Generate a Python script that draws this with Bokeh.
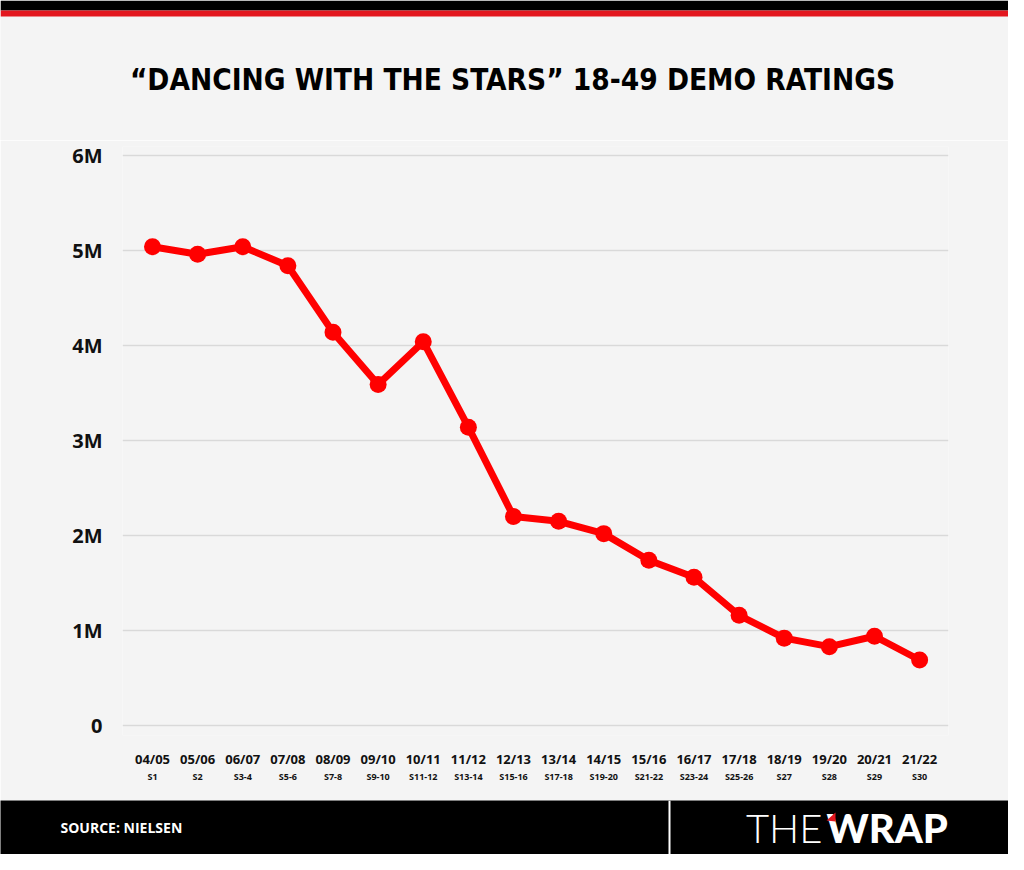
from bokeh.plotting import figure
from bokeh.models import FixedTicker, LinearAxis, Range1d, BoxAnnotation, Label, PolyAnnotation
from bokeh.layouts import column
from bokeh.embed import file_html
from bokeh.resources import INLINE

# ---------------- data ----------------
seasons_year = ["04/05", "05/06", "06/07", "07/08", "08/09", "09/10", "10/11", "11/12",
                "12/13", "13/14", "14/15", "15/16", "16/17", "17/18", "18/19", "19/20",
                "20/21", "21/22"]
seasons_num = ["S1", "S2", "S3-4", "S5-6", "S7-8", "S9-10", "S11-12", "S13-14",
               "S15-16", "S17-18", "S19-20", "S21-22", "S23-24", "S25-26", "S27",
               "S28", "S29", "S30"]
viewers_m = [5.04, 4.96, 5.04, 4.84, 4.14, 3.59, 4.04, 3.14, 2.20, 2.15, 2.02, 1.74,
             1.56, 1.16, 0.92, 0.83, 0.94, 0.69]
y_ticks = [0, 1, 2, 3, 4, 5, 6]
y_tick_labels = ["0", "1M", "2M", "3M", "4M", "5M", "6M"]
title_text = "\u201cDANCING WITH THE STARS\u201d 18-49 DEMO RATINGS"
source_text = "SOURCE: NIELSEN"

xs = list(range(len(seasons_year)))

W = 1008
BG = "#f4f4f4"
H_HEAD, H_MAIN, H_FOOT = 140, 660, 54
FOOT_TOP = H_HEAD + H_MAIN


def deco_fig(h, y0, bg):
    f = figure(width=W, height=h, output_backend="svg", toolbar_location=None,
               x_range=Range1d(0, W), y_range=Range1d(y0 + h, y0),
               min_border=0, x_axis_location=None, y_axis_location=None,
               frame_align=False)
    f.outline_line_color = None
    f.grid.visible = False
    f.background_fill_color = bg
    f.border_fill_color = bg
    return f


# ---------------- header ----------------
head = deco_fig(H_HEAD, 0, BG)
head.add_layout(BoxAnnotation(left=0, right=W, top=0, bottom=10, fill_color="#000000",
                              fill_alpha=1, line_color=None))
head.add_layout(BoxAnnotation(left=0, right=W, top=10, bottom=16, fill_color="#e3161e",
                              fill_alpha=1, line_color=None))
head.add_layout(Label(x=512, y=79, text=title_text, text_align="center",
                      text_baseline="middle", text_font="DejaVu Sans Condensed",
                      text_font_style="bold", text_font_size="29.5px", text_color="#000000"))

# ---------------- main chart ----------------
p = figure(width=W, height=H_MAIN, output_backend="svg", toolbar_location=None,
           x_range=Range1d(-0.665, 17.64), y_range=Range1d(-0.105, 6.095),
           min_border_left=122, min_border_right=60, min_border_top=6,
           min_border_bottom=H_MAIN - 6 - 589, x_axis_location=None, y_axis_location=None,
           frame_align=False)
p.outline_line_color = None
p.background_fill_color = BG
p.border_fill_color = BG

p.xgrid.grid_line_color = None
p.ygrid.ticker = FixedTicker(ticks=y_ticks)
p.ygrid.grid_line_color = "#d9d9d9"
p.ygrid.grid_line_width = 1.6

ya = LinearAxis(ticker=FixedTicker(ticks=y_ticks),
                major_label_overrides={t: l for t, l in zip(y_ticks, y_tick_labels)})
ya.axis_line_color = None
ya.major_tick_line_color = None
ya.minor_tick_line_color = None
ya.major_label_standoff = 14
ya.major_label_text_font = "Open Sans"
ya.major_label_text_font_style = "bold"
ya.major_label_text_font_size = "20px"
ya.major_label_text_color = "#111111"
p.add_layout(ya, "left")

xa1 = LinearAxis(ticker=FixedTicker(ticks=xs),
                 major_label_overrides={i: s for i, s in zip(xs, seasons_year)})
xa2 = LinearAxis(ticker=FixedTicker(ticks=xs),
                 major_label_overrides={i: s for i, s in zip(xs, seasons_num)})
for ax, size, stand in ((xa1, "13px", 8), (xa2, "9px", -7)):
    ax.axis_line_color = None
    ax.major_tick_line_color = None
    ax.minor_tick_line_color = None
    ax.major_label_standoff = stand
    ax.major_label_text_font = "Open Sans"
    ax.major_label_text_font_style = "bold"
    ax.major_label_text_font_size = size
    ax.major_label_text_color = "#111111"
p.add_layout(xa1, "below")
p.add_layout(xa2, "below")

p.line(xs, viewers_m, line_color="#ff0000", line_width=7, line_join="round")
p.scatter(xs, viewers_m, size=17, fill_color="#ff0000", line_color=None)

# ---------------- footer ----------------
fy = FOOT_TOP + H_FOOT / 2
foot = deco_fig(H_FOOT, FOOT_TOP, "#000000")
foot.add_layout(BoxAnnotation(left=668, right=670, top=FOOT_TOP, bottom=FOOT_TOP + H_FOOT,
                              fill_color="#ffffff", fill_alpha=1, line_color=None))
foot.add_layout(Label(x=60, y=fy, text=source_text, text_align="left",
                      text_baseline="middle", text_font="Open Sans",
                      text_font_style="bold", text_font_size="14px", text_color="#ffffff"))
foot.add_layout(Label(x=822, y=fy, text="THE", text_align="right",
                      text_baseline="middle", text_font="Lato Light",
                      text_font_size="40px", text_color="#ffffff"))
foot.add_layout(Label(x=826, y=fy, text="WRAP", text_align="left",
                      text_baseline="middle", text_font="Lato Black",
                      text_font_style="bold", text_font_size="40px", text_color="#ffffff"))
foot.add_layout(PolyAnnotation(xs=[826, 835, 835], ys=[fy - 7, fy - 15, fy - 6],
                               fill_color="#e3161e", fill_alpha=1, line_color=None))

layout = column(head, p, foot, spacing=0)
open("out.html", "w").write(file_html(layout, INLINE))
